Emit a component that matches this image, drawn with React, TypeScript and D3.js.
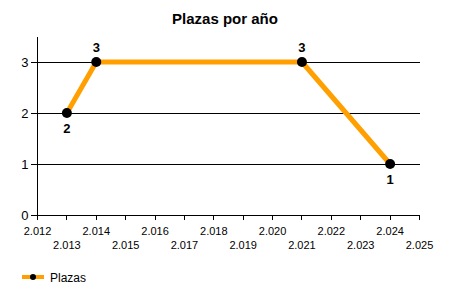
import React from "react";
import * as d3 from "d3";

const years = [2013, 2014, 2021, 2024];
const plazas = [2, 3, 3, 1];
const labelPos = ["below", "above", "above", "below"];
const xTicks = d3.range(2012, 2026);
const yTicks = [0, 1, 2, 3];
const title = "Plazas por año";
const seriesName = "Plazas";

export default function App() {
  const W = 450, H = 300;
  const x = d3.scaleLinear().domain([2012, 2025]).range([37.5, 419.5]);
  const y = d3.scaleLinear().domain([0, 3.5]).range([215, 36.5]);
  const line = d3.line<number>().x((_, i) => x(years[i])).y((d) => y(d));
  const fmt = (v: number) => d3.format(",")(v).replace(",", ".");
  const font = "Arial, 'Liberation Sans', sans-serif";
  return (
    <svg width={W} height={H} style={{ position: "absolute", left: 0, top: 0, background: "#fff" }} fontFamily={font}>
      <text x={225} y={24} textAnchor="middle" fontSize={15} fontWeight="bold">{title}</text>
      {yTicks.filter((t) => t > 0).map((t) => (
        <line key={"g" + t} x1={x(2012) - 7} x2={x(2025)} y1={y(t)} y2={y(t)} stroke="#000" strokeWidth={1} shapeRendering="crispEdges" />
      ))}
      {yTicks.map((t) => (
        <g key={"y" + t}>
          <line x1={x(2012) - 7} x2={x(2012)} y1={y(t)} y2={y(t)} stroke="#000" shapeRendering="crispEdges" />
          <text x={x(2012) - 9} y={y(t) + 5} textAnchor="end" fontSize={13}>{t}</text>
        </g>
      ))}
      <line x1={x(2012)} x2={x(2012)} y1={y(3.5)} y2={y(0)} stroke="#000" shapeRendering="crispEdges" />
      <line x1={x(2012)} x2={x(2025)} y1={y(0)} y2={y(0)} stroke="#000" shapeRendering="crispEdges" />
      {xTicks.map((t, i) => (
        <g key={"x" + t}>
          <line x1={x(t)} x2={x(t)} y1={y(0)} y2={y(0) + 5} stroke="#000" shapeRendering="crispEdges" />
          <text x={x(t)} y={i % 2 === 0 ? 235 : 249} textAnchor="middle" fontSize={11}>{fmt(t)}</text>
        </g>
      ))}
      <path d={line(plazas) || ""} fill="none" stroke="#FFA000" strokeWidth={5} strokeLinejoin="round" />
      {plazas.map((v, i) => (
        <g key={"p" + i}>
          <circle cx={x(years[i])} cy={y(v)} r={5} fill="#000" />
          <text x={x(years[i])} y={labelPos[i] === "above" ? y(v) - 10 : y(v) + 20} textAnchor="middle" fontSize={13} fontWeight="bold">{v}</text>
        </g>
      ))}
      <line x1={22} x2={44} y1={277} y2={277} stroke="#FFA000" strokeWidth={4} />
      <circle cx={33} cy={277} r={3} fill="#000" />
      <text x={50} y={281.5} fontSize={12}>{seriesName}</text>
    </svg>
  );
}
